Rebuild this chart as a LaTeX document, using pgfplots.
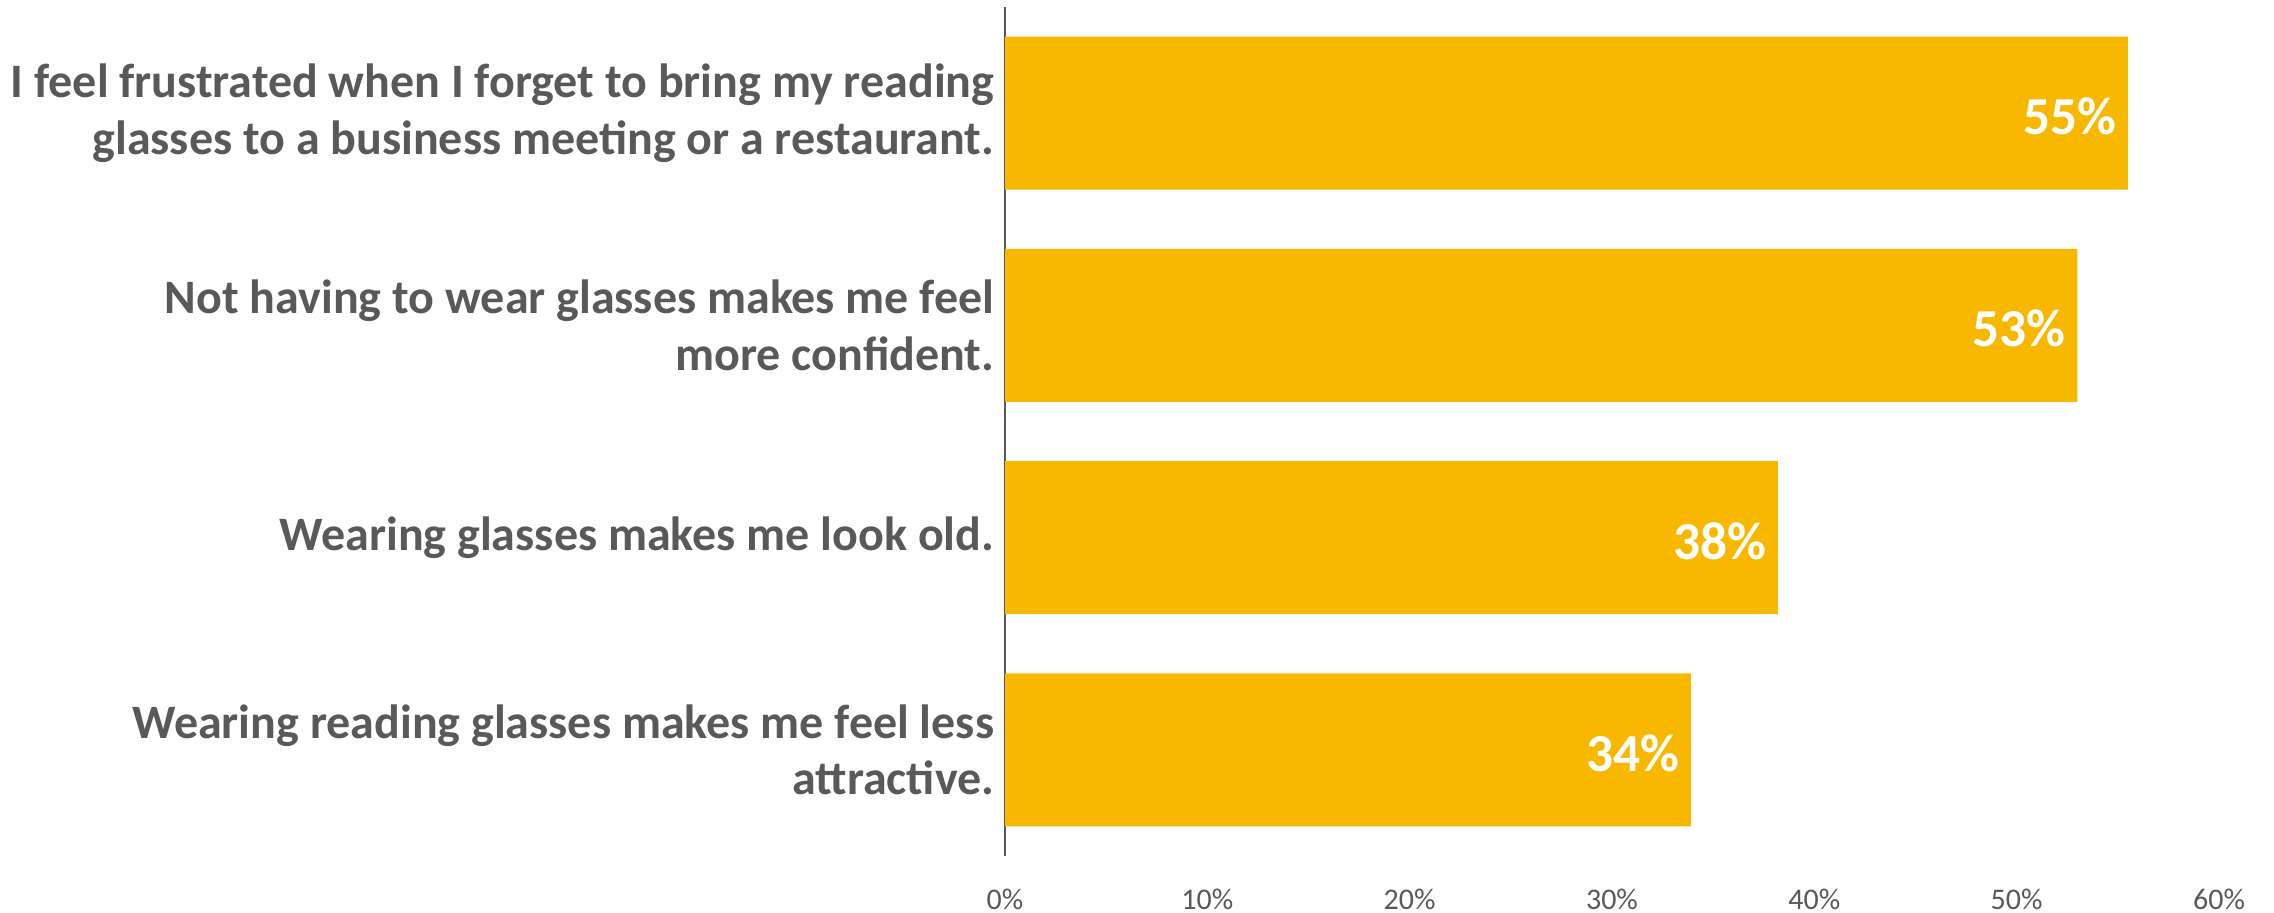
\documentclass[border=0pt]{standalone}
\usepackage{pgfplots}
\pgfplotsset{compat=1.18}
\usepackage{fontspec}
\setmainfont{Carlito}
\definecolor{barc}{HTML}{F9B800}
\definecolor{txt}{HTML}{595959}
\begin{document}
\begin{tikzpicture}
\path[use as bounding box] (0,0) rectangle (682.2pt,273.6pt);
\begin{axis}[
  at={(301.5pt,16.8pt)}, anchor=south west,
  scale only axis, width=364.2pt, height=254.7pt,
  xbar, bar width=0.72,
  xmin=0, xmax=60, ymin=-0.5, ymax=3.5,
  axis x line*=bottom, axis y line*=left,
  x axis line style={draw=none},
  y axis line style={draw=txt, line width=0.6pt},
  tick style={draw=none}, major tick length=0pt,
  xtick={0,10,...,60},
  xticklabel={\pgfmathprintnumber[assume math mode=true]{\tick}\%},
  xticklabel style={font=\fontsize{9}{10}\selectfont, text=txt, anchor=center, yshift=-12.9pt},
  ytick={0,1,2,3},
  yticklabels={{Wearing reading glasses makes me feel less\\attractive.},
               {Wearing glasses makes me look old.},
               {Not having to wear glasses makes me feel\\more confident.},
               {I feel frustrated when I forget to bring my reading\\glasses to a business meeting or a restaurant.}},
  yticklabel style={font=\bfseries\fontsize{14.4}{17}\selectfont, text=txt, align=right, anchor=east, inner xsep=3pt},
  point meta=explicit symbolic,
  nodes near coords,
  every node near coord/.append style={anchor=east, text=white, yshift=-1pt, font=\bfseries\fontsize{16}{16}\selectfont},
]
\addplot[fill=barc, draw=none] coordinates {
  (33.9,0) [34\%]
  (38.2,1) [38\%]
  (53.0,2) [53\%]
  (55.5,3) [55\%]
};
\end{axis}
\end{tikzpicture}
\end{document}
